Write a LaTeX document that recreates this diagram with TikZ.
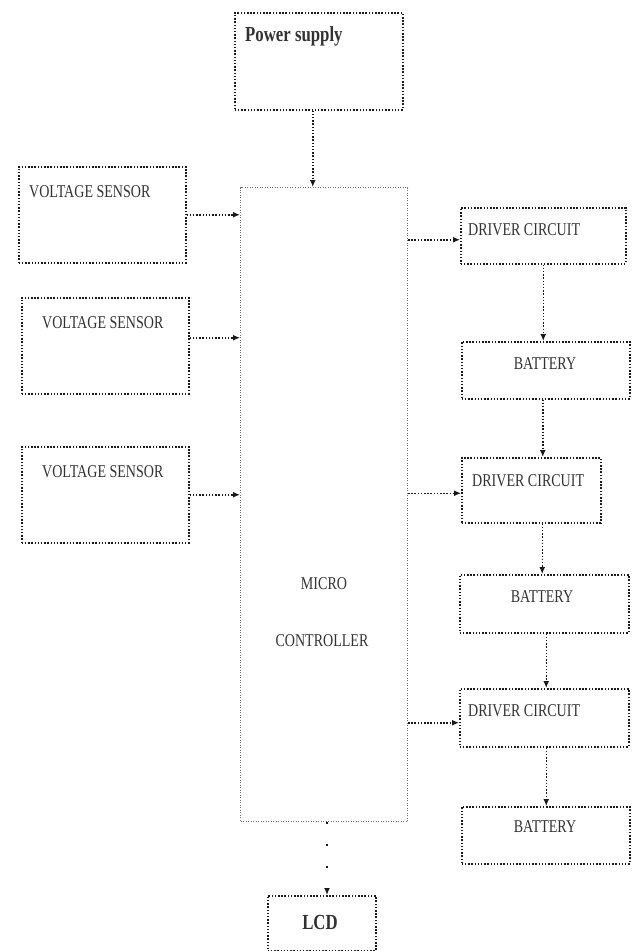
\documentclass[tikz,border=0pt]{standalone}
\usepackage{fontspec}
\setmainfont{Liberation Serif}[FakeStretch=0.78]
\usetikzlibrary{arrows.meta}
\begin{document}
\begin{tikzpicture}[x=1pt, y=-1pt,
    blk/.style={draw=myline, dash pattern=on 1.5pt off 1.7pt, line width=1.5pt, inner sep=0pt, anchor=north west},
    txt/.style={inner sep=0pt, text=mytext, font=\fontsize{18}{18}\selectfont},
    bigtxt/.style={inner sep=0pt, text=mytext, font=\fontsize{21.5}{21.5}\selectfont\bfseries},
    link/.style={draw=myline, dash pattern=on 1.5pt off 1.7pt, line width=1.5pt, -{Latex[length=7pt,width=6pt]}}]
    \definecolor{myline}{RGB}{25,25,25}
    \definecolor{mythin}{RGB}{110,110,110}
    \definecolor{mytext}{RGB}{50,50,50}

    \useasboundingbox (0,0) rectangle (632,951);

    % blocks
    \node[blk, minimum width=168pt, minimum height=97pt] (psu) at (234,12) {};
    \node[blk, draw=mythin, line width=1pt, dash pattern=on 1pt off 1.5pt, minimum width=167pt, minimum height=634pt] (mc) at (240,187) {};
    \node[blk, minimum width=167pt, minimum height=96pt] (vs1) at (18,166) {};
    \node[blk, minimum width=167pt, minimum height=96pt] (vs2) at (21,297) {};
    \node[blk, minimum width=167pt, minimum height=96pt] (vs3) at (21,446) {};
    \node[blk, minimum width=165pt, minimum height=56pt] (dc1) at (460,207) {};
    \node[blk, minimum width=168pt, minimum height=57pt] (bat1) at (461,341) {};
    \node[blk, minimum width=139pt, minimum height=65pt] (dc2) at (461,457) {};
    \node[blk, minimum width=169pt, minimum height=58pt] (bat2) at (459,574) {};
    \node[blk, minimum width=169pt, minimum height=58pt] (dc3) at (459,688) {};
    \node[blk, minimum width=168pt, minimum height=57pt] (bat3) at (461,806) {};
    \node[blk, minimum width=108pt, minimum height=55pt] (lcd) at (267,895) {};

    % texts
    \node[bigtxt, anchor=base west] (psutxt) at (245,41) {Power supply};
    \node[txt, anchor=base west] (vs1txt) at (29,197) {VOLTAGE SENSOR};
    \node[txt, anchor=base west] (vs2txt) at (42,328) {VOLTAGE SENSOR};
    \node[txt, anchor=base west] (vs3txt) at (42,477) {VOLTAGE SENSOR};
    \node[txt, anchor=base west] (dc1txt) at (468,235) {DRIVER CIRCUIT};
    \node[txt, anchor=base] (bat1txt) at (545,369) {BATTERY};
    \node[txt, anchor=base west] (dc2txt) at (472,486) {DRIVER CIRCUIT};
    \node[txt, anchor=base] (bat2txt) at (542,602) {BATTERY};
    \node[txt, anchor=base west] (dc3txt) at (468,716) {DRIVER CIRCUIT};
    \node[txt, anchor=base] (bat3txt) at (545,832) {BATTERY};
    \node[txt, anchor=base] (microtxt) at (324,589) {MICRO};
    \node[txt, anchor=base] (ctrltxt) at (322,646) {CONTROLLER};
    \node[bigtxt, anchor=base] (lcdtxt) at (320,929) {LCD};

    % links
    \draw[link] ([xshift=-6pt]psu.south) -- ([xshift=-6pt]psu.south |- mc.north);
    \draw[link] (vs1.east) -- (vs1.east -| mc.west);
    \draw[link] ([yshift=8pt]vs2.east) -- ([yshift=8pt]vs2.east -| mc.west);
    \draw[link] (vs3.east) -- (vs3.east -| mc.west);
    \draw[link] ([yshift=-4pt]dc1.west -| mc.east) -- ([yshift=-4pt]dc1.west);
    \draw[link] ([yshift=-3pt]dc2.west -| mc.east) -- ([yshift=-3pt]dc2.west);
    \draw[link] ([yshift=-5pt]dc3.west -| mc.east) -- ([yshift=-5pt]dc3.west);
    \draw[link] (dc1.south) -- (dc1.south |- bat1.north);
    \draw[link] ([xshift=-3pt]bat1.south) -- ([xshift=-3pt]bat1.south |- dc2.north);
    \draw[link] ([xshift=-2pt]bat2.north |- dc2.south) -- ([xshift=-2pt]bat2.north);
    \draw[link] ([xshift=2pt]bat2.south) -- ([xshift=2pt]bat2.south |- dc3.north);
    \draw[link] ([xshift=2pt]dc3.south) -- ([xshift=2pt]dc3.south |- bat3.north);
    \draw[link, dash pattern=on 2pt off 20pt] ([xshift=3pt]mc.south) -- ([xshift=3pt]mc.south |- lcd.north);
\end{tikzpicture}
\end{document}
